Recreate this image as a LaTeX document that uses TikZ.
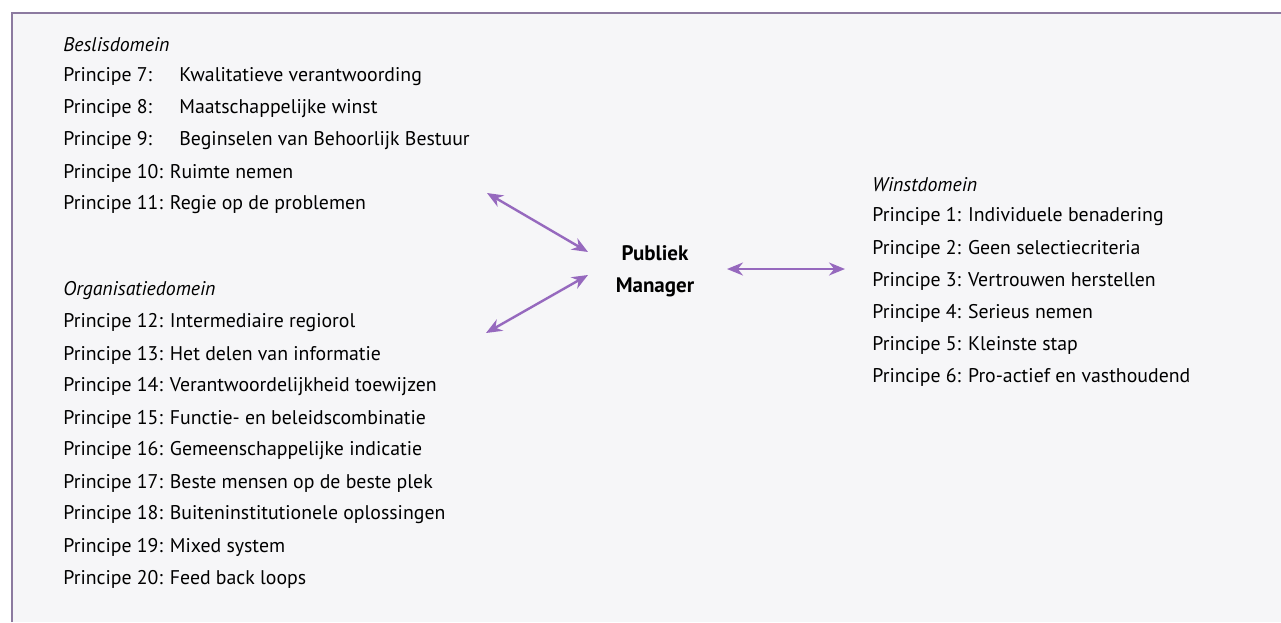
\documentclass[tikz,border=0pt]{standalone}
\usepackage{fontspec}
\setmainfont{PT Sans}
\usetikzlibrary{arrows.meta}
\definecolor{boxline}{RGB}{140,122,160}
\definecolor{arrowc}{RGB}{150,105,190}
\definecolor{paper}{RGB}{246,246,248}
\tikzset{
  item/.style={anchor=west, inner sep=0pt, font=\fontsize{9.9}{11}\selectfont},
  head/.style={anchor=west, inner sep=0pt, font=\fontsize{9.9}{11}\selectfont\itshape},
  central/.style={inner sep=0pt, font=\fontsize{10.5}{12}\selectfont\bfseries},
  conn/.style={arrowc, line width=1.2pt, {Stealth[length=8pt,width=6.5pt]}-{Stealth[length=8pt,width=6.5pt]}}
}
\newcommand{\plab}[1]{\makebox[58pt][l]{#1}}
\begin{document}
\begin{tikzpicture}[x=0.5pt,y=-0.5pt]
\useasboundingbox (0,0) rectangle (1281,622);
\fill[white] (0,0) rectangle (1281,622);
\fill[paper] (12,13) rectangle (1281,622);
\draw[boxline, line width=0.8pt] (12,622) -- (12,13) -- (1281,13);
% Beslisdomein
\node[head] (bd) at (63,45) {Beslisdomein};
\node[item] (p7) at (63,77) {\plab{Principe 7:}Kwalitatieve verantwoording};
\node[item] (p8) at (63,109) {\plab{Principe 8:}Maatschappelijke winst};
\node[item] (p9) at (63,141) {\plab{Principe 9:}Beginselen van Behoorlijk Bestuur};
\node[item] (p10) at (63,173) {Principe 10: Ruimte nemen};
\node[item] (p11) at (63,205) {Principe 11: Regie op de problemen};
% Organisatiedomein
\node[head] (od) at (63,291) {Organisatiedomein};
\node[item] (p12) at (63,323) {Principe 12: Intermediaire regiorol};
\node[item] (p13) at (63,355) {Principe 13: Het delen van informatie};
\node[item] (p14) at (63,387) {Principe 14: Verantwoordelijkheid toewijzen};
\node[item] (p15) at (63,419) {Principe 15: Functie- en beleidscombinatie};
\node[item] (p16) at (63,451) {Principe 16: Gemeenschappelijke indicatie};
\node[item] (p17) at (63,483) {Principe 17: Beste mensen op de beste plek};
\node[item] (p18) at (63,515) {Principe 18: Buiteninstitutionele oplossingen};
\node[item] (p19) at (63,547) {Principe 19: Mixed system};
\node[item] (p20) at (63,579) {Principe 20: Feed back loops};
% Winstdomein
\node[head] (wd) at (872,185) {Winstdomein};
\node[item] (p1) at (872,217) {Principe 1: Individuele benadering};
\node[item] (p2) at (872,249) {Principe 2: Geen selectiecriteria};
\node[item] (p3) at (872,281) {Principe 3: Vertrouwen herstellen};
\node[item] (p4) at (872,313) {Principe 4: Serieus nemen};
\node[item] (p5) at (872,345) {Principe 5: Kleinste stap};
\node[item] (p6) at (872,377) {Principe 6: Pro-actief en vasthoudend};
% centre
\node[central] (pub) at (655,253) {Publiek};
\node[central] (man) at (655,287) {Manager};
% connector ends
\coordinate (a1s) at (487,193);
\coordinate (a1e) at (588,252);
\coordinate (a2s) at (486,333);
\coordinate (a2e) at (588,275);
\coordinate (a3s) at (727,269);
\coordinate (a3e) at (845,269);
\draw[conn] (a1s) -- (a1e);
\draw[conn] (a2s) -- (a2e);
\draw[conn] (a3s) -- (a3e);
\end{tikzpicture}
\end{document}
